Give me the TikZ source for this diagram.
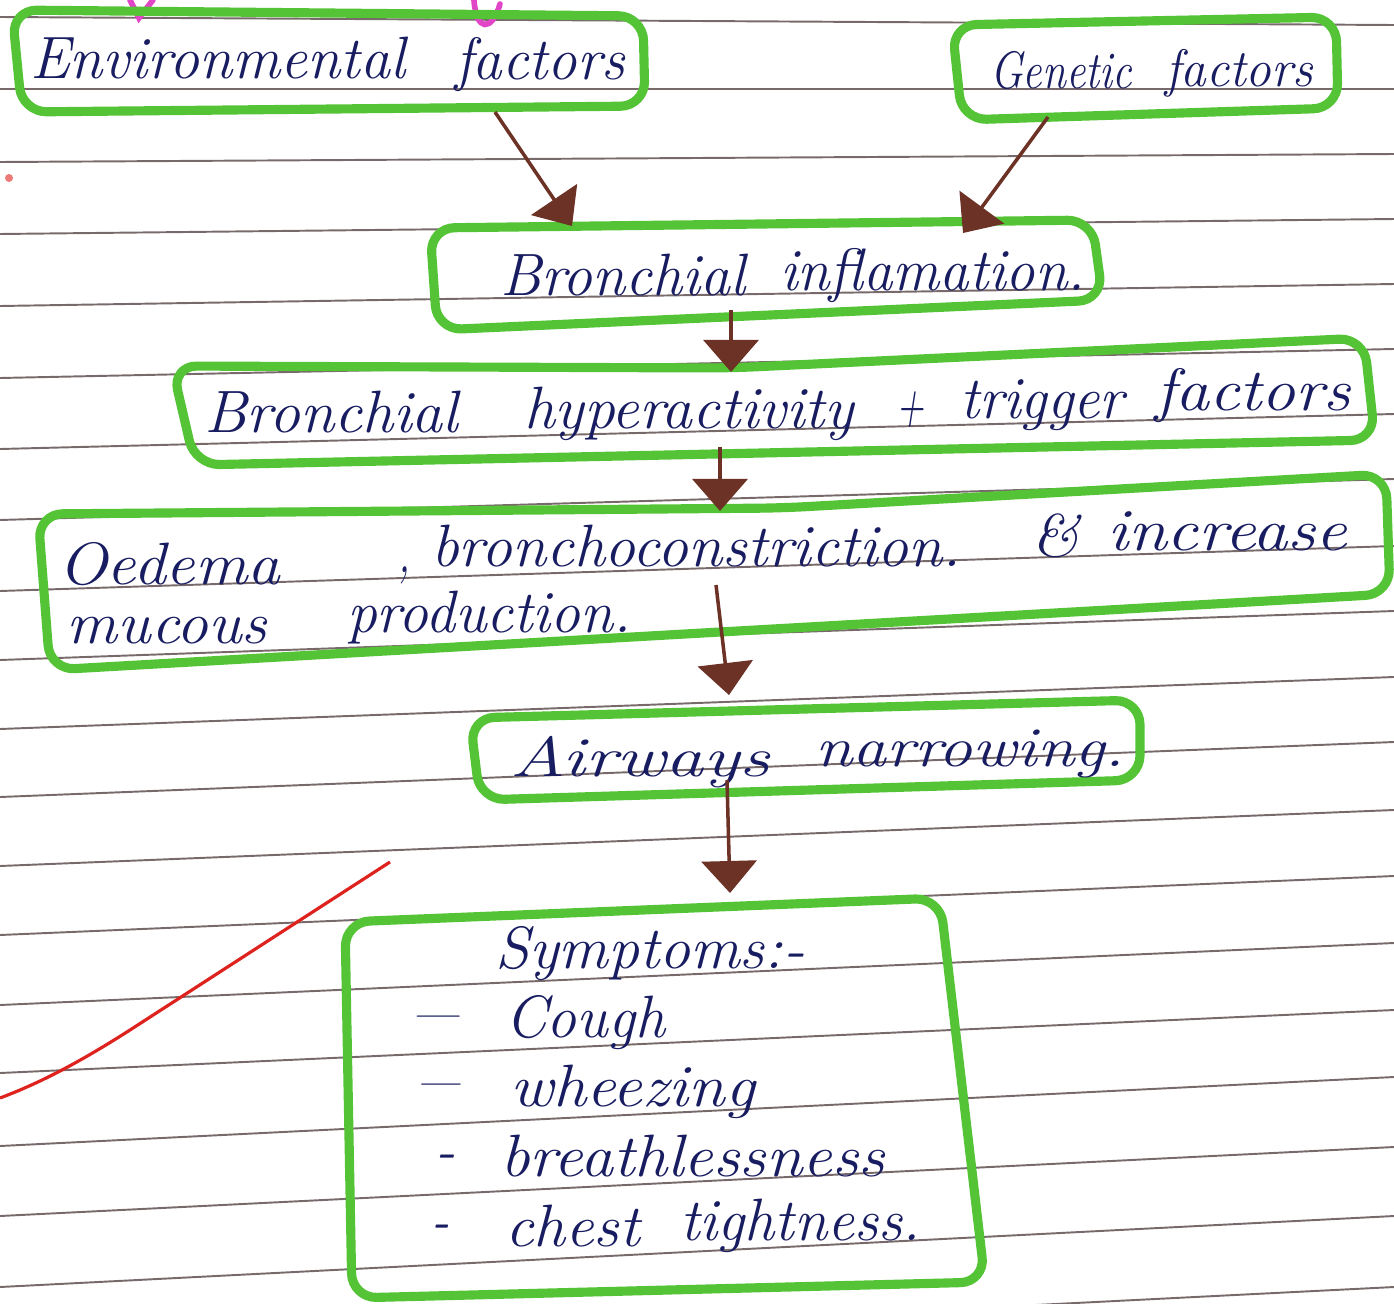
\documentclass[tikz,border=0pt]{standalone}
\usetikzlibrary{arrows.meta}

% one drawing unit = 0.01cm; used for widths of the written words
\newlength\pxu
\setlength\pxu{0.01cm}
% a handwritten word: font size #1 (pt), stretched sideways to width #2 (drawing units)
\newcommand\handw[3]{{\fontsize{#1}{#1}\selectfont\resizebox{#2\pxu}{\height}{\itshape #3}}}

\definecolor{ink}{RGB}{24,28,96}
\definecolor{marker}{RGB}{84,196,54}
\definecolor{rust}{RGB}{108,50,38}
\definecolor{ruling}{RGB}{120,106,106}
\definecolor{redpen}{RGB}{222,34,30}
\definecolor{pinkpen}{RGB}{226,70,200}

\begin{document}
\begin{tikzpicture}[x=0.01cm, y=-0.01cm,
  ruleline/.style={draw=ruling, line width=0.55pt},
  greenbox/.style={draw=marker, line width=2.6pt, rounded corners=7pt, line join=round},
  word/.style={inner sep=0pt, outer sep=0pt, text=ink, anchor=base west},
  dashmark/.style={inner sep=0pt, outer sep=0pt, text=ink, anchor=center},
  flow/.style={draw=rust, line width=1pt, -{Triangle[length=0.32cm, width=0.55cm]}, color=rust},
]
% page
\fill[white] (0,0) rectangle (1394,1303);
\useasboundingbox (0,0) rectangle (1394,1303);

% ruled lines of the notebook page
\foreach \l/\r in {17/25, 89/89, 162/154, 234/219, 306/284, 378/349, 449/414,
                   520/479, 591/546, 660/611, 729/677, 797/742, 866/810, 935/876,
                   1005/943, 1073/1010, 1146/1077, 1216/1147, 1287/1216, 1357/1287}
  \draw[ruleline] (0,\l) -- (1394,\r);

% stray pen marks
\draw[pinkpen, line width=1.6pt, line cap=round] (130,0) -- (139,18) -- (153,0);
\draw[pinkpen, line width=1.6pt, line cap=round] (474,0) .. controls (476,32) and (492,32) .. (500,4);
\fill[redpen!60] (9,178) circle (4);
\draw[redpen, line width=0.9pt] (0,1098) .. controls (40,1083) and (80,1062) .. (130,1030) -- (390,862);

% boxes
\draw[greenbox] (12,10) -- (643,16) -- (645,106) -- (22,112) -- cycle;
\draw[greenbox] (952,25) -- (1336,17) -- (1338,108) -- (962,120) -- cycle;
\draw[greenbox] (430,228) -- (1092,220) -- (1103,300) -- (437,330) -- cycle;
\draw[greenbox] (172,366) -- (730,368) -- (1364,338) -- (1375,440) -- (195,465) -- cycle;
\draw[greenbox] (38,514) -- (782,508) -- (1386,474) -- (1390,594) -- (50,670) -- cycle;
\draw[greenbox] (470,718) -- (1140,700) -- (1140,780) -- (480,800) -- cycle;
\draw[greenbox] (345,922) -- (940,898) -- (985,1282) -- (352,1298) -- cycle;

% texts
\node[word] (envA) at (30,78)  {\handw{17}{375}{Environmental}};
\node[word] (envB) at (455,80) {\handw{17}{170}{factors}};

\node[word] (genA) at (990,88)  {\handw{15}{142}{Genetic}};
\node[word] (genB) at (1165,86) {\handw{15}{148}{factors}};

\node[word] (infA) at (500,295) {\handw{17}{245}{Bronchial}};
\node[word] (infB) at (780,290) {\handw{17}{305}{inflamation.}};

\node[word] (hypA) at (204,432)  {\handw{17}{254}{Bronchial}};
\node[word] (hypB) at (524,428)  {\handw{17}{330}{hyperactivity}};
\node[word] (hypC) at (896,424)  {\handw{17}{28}{+}};
\node[word] (hypD) at (960,418)  {\handw{17}{164}{trigger}};
\node[word] (hypE) at (1155,410) {\handw{17}{196}{factors}};

\node[word] (oedA) at (58,584)    {\handw{17}{222}{Oedema}};
\node[word] (oedB) at (398,572)   {\handw{17}{12}{,}};
\node[word] (oedC) at (431,566)   {\handw{17}{530}{bronchoconstriction.}};
\node[word] (oedD) at (1031,556)  {\handw{17}{48}{\&}};
\node[word] (oedE) at (1107,550)  {\handw{17}{240}{increase}};
\node[word] (mucA) at (67,643)    {\handw{17}{200}{mucous}};
\node[word] (mucB) at (347,632)   {\handw{17}{284}{production.}};

\node[word] (airA) at (510,776) {\handw{16}{260}{Airways}};
\node[word] (airB) at (815,766) {\handw{16}{310}{narrowing.}};

\node[word] (symT) at (495,968)   {\handw{17}{310}{Symptoms:-}};
\node[dashmark] (d1) at (435,1024) {\handw{17}{48}{---}};
\node[word] (s1) at (505,1037)    {\handw{17}{160}{Cough}};
\node[dashmark] (d2) at (438,1092) {\handw{17}{44}{---}};
\node[word] (s2) at (510,1106)    {\handw{17}{245}{wheezing}};
\node[dashmark] (d3) at (445,1162) {\handw{17}{20}{-}};
\node[word] (s3) at (500,1176)    {\handw{17}{385}{breathlessness}};
\node[dashmark] (d4) at (440,1232) {\handw{17}{18}{-}};
\node[word] (s4) at (505,1246)    {\handw{17}{135}{chest}};
\node[word] (s5) at (680,1240)    {\handw{17}{240}{tightness.}};

% connector ends
\coordinate (envOut) at (495,112);
\coordinate (genOut) at (1048,117);
\coordinate (infInL) at (572,226);
\coordinate (infInR) at (963,233);
\coordinate (infOut) at (731,310);
\coordinate (hypIn)  at (731,372);
\coordinate (hypOut) at (720,447);
\coordinate (oedIn)  at (720,511);
\coordinate (oedOut) at (716,585);
\coordinate (airIn)  at (729,695);
\coordinate (airOut) at (727,780);
\coordinate (symIn)  at (730,893);

% arrows
\draw[flow] (envOut) -- (infInL);
\draw[flow] (genOut) -- (infInR);
\draw[flow] (infOut) -- (hypIn);
\draw[flow] (hypOut) -- (oedIn);
\draw[flow] (oedOut) -- (airIn);
\draw[flow] (airOut) -- (symIn);
\end{tikzpicture}
\end{document}
